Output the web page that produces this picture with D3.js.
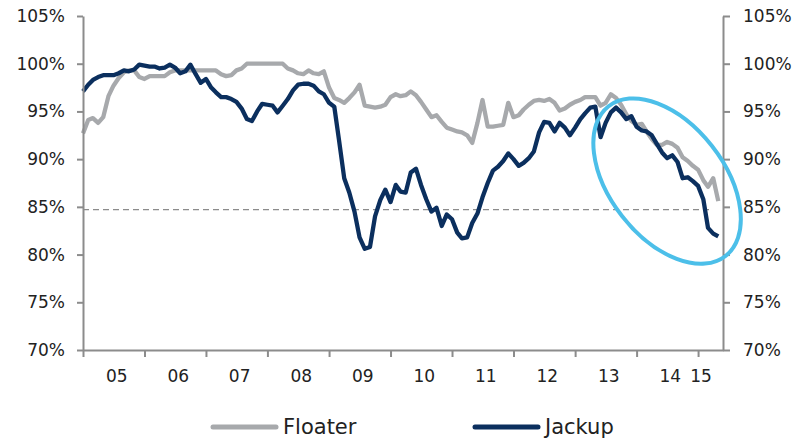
<!DOCTYPE html>
<meta charset="utf-8">
<style>
body {
  margin: 0;
  background: #fff;
  font-family: "DejaVu Sans", Verdana, sans-serif;
}
.axis path, .axis line {
  stroke: #8c8c8c;
  stroke-width: 2;
}
.axis text {
  font-family: "DejaVu Sans", Verdana, sans-serif;
  font-size: 17px;
  fill: #222;
}
.line {
  fill: none;
  stroke-width: 4.3;
  stroke-linejoin: round;
}
</style>
<body>
<script src="https://cdn.jsdelivr.net/npm/d3@7/dist/d3.min.js"></script>
<script>

// monthly utilisation, Jan 2005 .. May 2015
var floater = [
  92.7, 94.1, 94.3, 93.8, 94.4, 96.6, 97.7, 98.5, 99.1, 99.3, 99.3, 98.6,
  98.4, 98.7, 98.7, 98.7, 98.7, 99.1, 99.3, 99.3, 99.3, 99.3, 99.3, 99.3,
  99.3, 99.3, 99.3, 98.9, 98.7, 98.8, 99.3, 99.5, 100, 100, 100, 100,
  100, 100, 100, 100, 99.5, 99.3, 99.0, 98.9, 99.3, 99.0, 98.9, 99.2,
  97.5, 96.4, 96.2, 95.9, 96.4, 97.0, 97.8, 95.6, 95.5, 95.4, 95.5, 95.7,
  96.5, 96.8, 96.6, 96.7, 97.1, 96.7, 96.0, 95.2, 94.4, 94.6, 93.9, 93.3,
  93.1, 92.9, 92.8, 92.5, 91.7, 93.8, 96.2, 93.4, 93.4, 93.5, 93.6, 95.9,
  94.4, 94.6, 95.2, 95.7, 96.1, 96.2, 96.1, 96.3, 95.9, 95.1, 95.3, 95.7,
  96.0, 96.2, 96.5, 96.5, 96.5, 95.6, 95.9, 96.8, 96.4, 95.7, 94.7, 94.0,
  93.6, 93.7, 92.9, 92.1, 91.5, 91.5, 91.8, 91.6, 91.2, 90.2, 89.8, 89.3,
  88.9, 87.8, 87.1, 88.0, 85.6
];

var jackup = [
  97.1, 97.8, 98.3, 98.6, 98.8, 98.8, 98.8, 99.0, 99.3, 99.2, 99.4, 99.9,
  99.8, 99.7, 99.7, 99.5, 99.6, 99.9, 99.6, 99.0, 99.2, 99.9, 98.9, 98.0,
  98.4, 97.5, 97.0, 96.5, 96.5, 96.3, 96.0, 95.3, 94.2, 94.0, 95.0, 95.8,
  95.7, 95.6, 94.9, 95.6, 96.3, 97.2, 97.8, 97.9, 97.9, 97.7, 97.1, 96.8,
  95.9, 95.5, 92.0, 88.0, 86.5, 84.5, 81.8, 80.6, 80.8, 84.0, 85.7, 86.8,
  85.5, 87.3, 86.6, 86.5, 88.6, 89.0, 87.3, 85.8, 84.5, 84.9, 83.0, 84.2,
  83.7, 82.3, 81.7, 81.8, 83.3, 84.3, 86.0, 87.5, 88.8, 89.2, 89.8, 90.6,
  90.0, 89.3, 89.6, 90.1, 90.8, 92.8, 93.9, 93.8, 92.9, 93.8, 93.3, 92.5,
  93.3, 94.2, 94.8, 95.4, 95.5, 92.3, 93.8, 94.9, 95.4, 94.9, 94.2, 94.5,
  93.4, 93.0, 92.9, 92.5, 91.6, 90.7, 90.1, 90.4, 89.7, 88.0, 88.1, 87.7,
  87.2, 85.8, 82.8, 82.2, 81.9
];

var yTicks = [70, 75, 80, 85, 90, 95, 100, 105];
var years = ["05", "06", "07", "08", "09", "10", "11", "12", "13", "14", "15"];
var average = 84.7;
var seriesNames = ["Floater", "Jackup"];
var colors = ["#a7a9ac", "#0b2f5e"];

// highlighted region: centre in data terms
var highlightDate = new Date(2014, 6, 1),
    highlightValue = 87.7;

var width = 799,
    height = 440;

var startDate = new Date(2005, 0, 1),
    endDate = new Date(2015, 4, 29);

var dates = floater.map(function(d, i) { return new Date(2005, i, 1); });

var x = d3.scaleTime()
    .domain([startDate, endDate])
    .range([83, 723]);

var y = d3.scaleLinear()
    .domain([70, 105])
    .range([350, 16]);

var svg = d3.select("body").append("svg")
    .attr("width", width)
    .attr("height", height);

// dashed average line
svg.append("line")
    .attr("x1", x(startDate))
    .attr("x2", 713)
    .attr("y1", y(average))
    .attr("y2", y(average))
    .attr("stroke", "#8c8c8c")
    .attr("stroke-width", 1.3)
    .attr("stroke-dasharray", "6,4");

var line = d3.line()
    .x(function(d, i) { return x(dates[i]); })
    .y(function(d) { return y(d); });

svg.append("path")
    .datum(floater)
    .attr("class", "line")
    .attr("stroke", colors[0])
    .attr("d", line);

svg.append("path")
    .datum(jackup)
    .attr("class", "line")
    .attr("stroke", colors[1])
    .attr("d", line);

// axes
svg.append("g")
    .attr("class", "axis")
    .attr("transform", "translate(" + x(startDate) + ",0)")
    .call(d3.axisLeft(y).tickValues(yTicks).tickFormat(function(d) { return d + "%"; })
      .tickSize(6).tickSizeOuter(0).tickPadding(12));

svg.append("g")
    .attr("class", "axis")
    .attr("transform", "translate(" + x(endDate) + ",0)")
    .call(d3.axisRight(y).tickValues(yTicks).tickFormat(function(d) { return d + "%"; })
      .tickSize(7).tickSizeOuter(0).tickPadding(13));

var yearStarts = years.map(function(d) { return new Date(2000 + (+d), 0, 1); });

var xAxis = svg.append("g")
    .attr("class", "axis")
    .attr("transform", "translate(0," + y(70) + ")")
    .call(d3.axisBottom(x).tickValues(yearStarts).tickFormat("").tickSize(7).tickSizeOuter(0));

xAxis.selectAll(".yearLabel")
    .data(years)
  .enter().append("text")
    .attr("class", "yearLabel")
    .attr("x", function(d, i) {
      var a = yearStarts[i],
          b = new Date(a.getFullYear() + 1, 0, 1);
      if (b > endDate) return x(a) + 3;
      return (x(a) + x(b)) / 2 + 3;
    })
    .attr("y", 32)
    .attr("text-anchor", "middle")
    .text(function(d) { return d; });

// highlight ellipse
svg.append("ellipse")
    .attr("transform", "translate(" + x(highlightDate) + "," + y(highlightValue) + ") rotate(52)")
    .attr("rx", 95)
    .attr("ry", 57)
    .attr("fill", "none")
    .attr("stroke", "#4cbfe9")
    .attr("stroke-width", 4);

// legend
var legend = svg.selectAll(".legend")
    .data(seriesNames)
  .enter().append("g")
    .attr("class", "legend")
    .attr("transform", function(d, i) { return "translate(" + (213 + i * 262) + ",427)"; });

legend.append("line")
    .attr("x1", 0)
    .attr("x2", 63)
    .attr("stroke", function(d, i) { return colors[i]; })
    .attr("stroke-width", 5)
    .attr("stroke-linecap", "round");

legend.append("text")
    .attr("x", 70)
    .attr("y", 7)
    .style("font-size", "21px")
    .style("fill", "#222")
    .text(function(d) { return d; });

</script>
